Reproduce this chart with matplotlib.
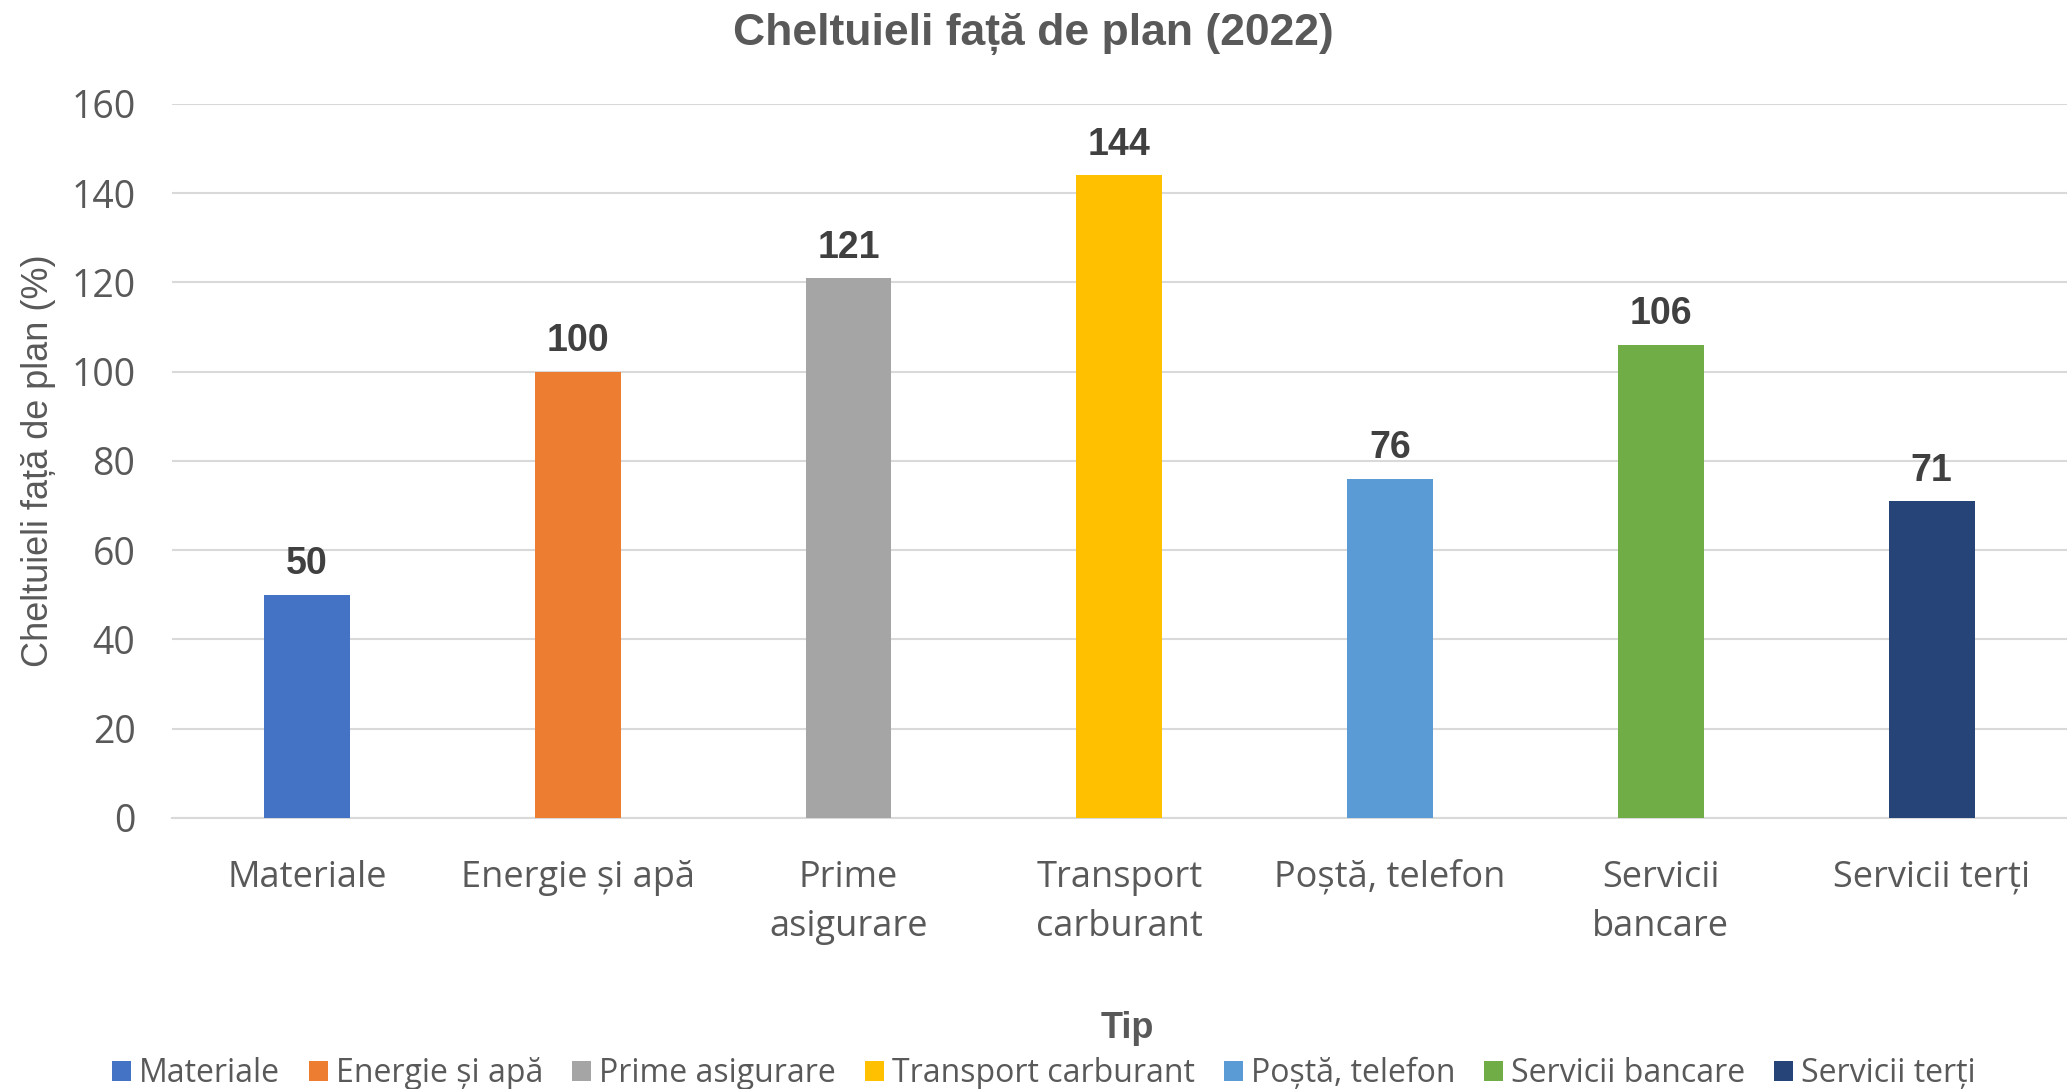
import matplotlib
matplotlib.use('Agg')
import matplotlib.pyplot as plt
from matplotlib.patches import Patch

# Data
categories = ['Materiale', 'Energie și apă', 'Prime asigurare', 'Transport carburant',
              'Poștă, telefon', 'Servicii bancare', 'Servicii terți']
tick_labels = ['Materiale', 'Energie și apă', 'Prime\nasigurare', 'Transport\ncarburant',
               'Poștă, telefon', 'Servicii\nbancare', 'Servicii terți']
values = [50, 100, 121, 144, 76, 106, 71]
colors = ['#4472C4', '#ED7D31', '#A5A5A5', '#FFC000', '#5B9BD5', '#70AD47', '#264478']
yticks = [0, 20, 40, 60, 80, 100, 120, 140, 160]

txt = '#595959'
narrow = ['Liberation Sans', 'DejaVu Sans']
body = ['Open Sans', 'DejaVu Sans']

fig = plt.figure(figsize=(20.67, 10.89), dpi=100)
ax = fig.add_axes([0.0830, 0.2489, 0.9170, 0.6556])

x = range(len(values))
bars = ax.bar(x, values, width=0.317, color=colors, zorder=3)

# value labels on top of bars
for xi, v in zip(x, values):
    ax.text(xi, v + 2.8, str(v), ha='center', va='bottom', fontsize=27,
            fontweight='bold', color='#404040', family=narrow)

ax.set_xlim(-0.5, len(values) - 0.5)
ax.set_ylim(0, 160)
ax.set_yticks(yticks)
ax.set_yticklabels([str(t) for t in yticks], fontsize=27, color=txt, family=body)
ax.set_xticks(list(x))
ax.set_xticklabels(tick_labels, fontsize=26, color=txt, family=body,
                   linespacing=1.48)
ax.tick_params(axis='both', length=0)
ax.tick_params(axis='x', pad=30)
ax.tick_params(axis='y', pad=26)
ax.grid(axis='y', color='#D9D9D9', linewidth=1.5, zorder=0)
for s in ['top', 'right', 'left']:
    ax.spines[s].set_visible(False)
ax.spines['bottom'].set_color('#D9D9D9')
ax.spines['bottom'].set_linewidth(1.5)

ax.set_ylabel('Cheltuieli față de plan (%)', fontsize=26, color=txt, family=narrow)
ax.yaxis.set_label_coords(-0.061, 0.5)

fig.text(0.5, 0.969, 'Cheltuieli față de plan (2022)', ha='center', va='center',
         fontsize=32, fontweight='bold', color=txt, family=narrow)
fig.text(0.5455, 0.056, 'Tip', ha='center', va='center', fontsize=26,
         fontweight='bold', color=txt, family=narrow)

handles = [Patch(facecolor=c) for c in colors]
leg = fig.legend(handles, categories, loc='center', bbox_to_anchor=(0.505, 0.014),
                 ncol=7, frameon=False, handlelength=0.6,
                 handleheight=0.6, handletextpad=0.25, columnspacing=0.9,
                 prop={'family': body, 'size': 23})
for t in leg.get_texts():
    t.set_color(txt)

plt.savefig('out.png', dpi=100)
